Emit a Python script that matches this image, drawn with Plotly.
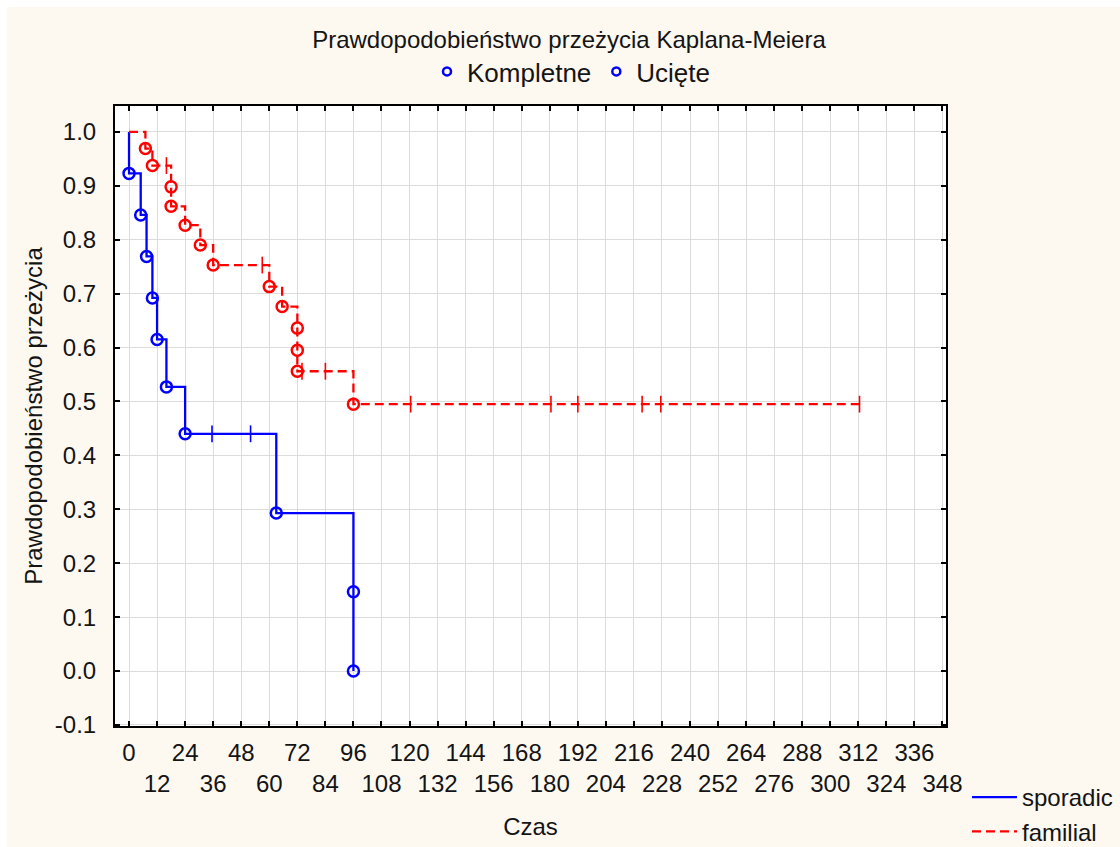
import plotly.graph_objects as go

# Kaplan-Meier estimates: event times (months) and survival just after each event
sporadic_event_t = [0, 5, 7.5, 10, 12, 16, 24, 63, 96, 96]
sporadic_event_s = [0.923, 0.846, 0.769, 0.692, 0.615, 0.527, 0.440, 0.293, 0.147, 0.0]
sporadic_cens_t = [35.5, 52]

familial_event_t = [7, 10, 18, 18, 24, 30.5, 36, 60, 65.5, 72, 72, 72, 96]
familial_event_s = [0.969, 0.9375, 0.898, 0.862, 0.827, 0.790, 0.753, 0.713, 0.676,
                    0.636, 0.595, 0.556, 0.495]
familial_cens_t = [16, 57, 74, 84, 120.5, 180.5, 192, 219.5, 227.5, 312.5]

x_ticks = list(range(0, 349, 12))
y_ticks = [round(-0.1 + 0.1 * i, 1) for i in range(12)]

BLUE = "#0000ff"
RED = "#ff0000"
FONT = "Liberation Sans, Arial, sans-serif"


def surv_at(t, ev_t, ev_s):
    s = 1.0
    for et, es in zip(ev_t, ev_s):
        if et <= t:
            s = es
    return s


def step_xy(ev_t, ev_s, cens_t):
    xs = [0] + list(ev_t)
    ys = [1.0] + list(ev_s)
    if cens_t and max(cens_t) > ev_t[-1]:
        xs.append(max(cens_t))
        ys.append(ev_s[-1])
    return xs, ys


fig = go.Figure()

groups = [
    ("sporadic", sporadic_event_t, sporadic_event_s, sporadic_cens_t, BLUE, "solid"),
    ("familial", familial_event_t, familial_event_s, familial_cens_t, RED, "9px,5px"),
]

for name, ev_t, ev_s, c_t, color, dash in groups:
    sx, sy = step_xy(ev_t, ev_s, c_t)
    fig.add_trace(go.Scatter(
        x=sx, y=sy, mode="lines", name=name, legend="legend",
        line=dict(color=color, width=2.3, shape="hv", dash=dash),
        hoverinfo="skip",
    ))
    # complete observations
    fig.add_trace(go.Scatter(
        x=ev_t, y=ev_s, mode="markers", showlegend=False,
        marker=dict(symbol="circle-open", size=11, color=color, line=dict(width=2.5)),
    ))
    # censored observations
    fig.add_trace(go.Scatter(
        x=c_t, y=[surv_at(t, ev_t, ev_s) for t in c_t], mode="markers", showlegend=False,
        marker=dict(symbol="line-ns-open", size=12, color=color, line=dict(width=1.6, color=color)),
    ))

# observation-type key
for label in ["Kompletne", "Ucięte"]:
    fig.add_trace(go.Scatter(
        x=[None], y=[None], mode="markers", name=label, legend="legend2",
        marker=dict(symbol="circle-open", size=8, color=BLUE, line=dict(width=2.5)),
    ))

# second row of x labels lives on an overlaid axis
fig.add_trace(go.Scatter(x=[None], y=[None], xaxis="x2", showlegend=False, hoverinfo="skip"))

x_range = [-6, 349.5]
y_range = [-0.102, 1.048]
W, H = 1120, 847
ml, mr, mt, mb = 115, 174, 106, 121
pw, ph = W - ml - mr, H - mt - mb

fig.update_layout(
    width=W, height=H,
    margin=dict(l=ml, r=mr, t=mt, b=mb, autoexpand=False),
    paper_bgcolor="#fdf9f1",
    plot_bgcolor="#ffffff",
    font=dict(family=FONT, size=24, color="#141414"),
    title=dict(text="Prawdopodobieństwo przeżycia Kaplana-Meiera",
               x=569 / W, xanchor="center", y=1 - 40 / H, yanchor="middle",
               font=dict(size=24)),
    xaxis=dict(
        range=x_range, tickvals=x_ticks,
        ticktext=[str(v) if i % 2 == 0 else "" for i, v in enumerate(x_ticks)],
        ticks="inside", ticklen=5, tickwidth=1.5, tickcolor="#000000",
        showline=True, linecolor="#000000", linewidth=2, mirror="ticks",
        showgrid=True, gridcolor="#dcdcdc", gridwidth=1, zeroline=False,
        tickfont=dict(size=24), ticklabelstandoff=4,
    ),
    xaxis2=dict(
        overlaying="x", side="bottom", anchor="y", range=x_range,
        tickvals=x_ticks[1::2], ticktext=[str(v) for v in x_ticks[1::2]],
        ticks="", showgrid=False, showline=False, zeroline=False,
        tickfont=dict(size=24), ticklabelstandoff=41,
        title=dict(text="Czas", font=dict(size=24), standoff=22),
    ),
    yaxis=dict(
        range=y_range, tickvals=y_ticks, ticktext=[f"{v:.1f}" for v in y_ticks],
        ticks="inside", ticklen=5, tickwidth=1.5, tickcolor="#000000",
        showline=True, linecolor="#000000", linewidth=2, mirror="ticks",
        showgrid=True, gridcolor="#dcdcdc", gridwidth=1, zeroline=False,
        tickfont=dict(size=24), ticklabelstandoff=12,
        title=dict(text="Prawdopodobieństwo przeżycia", font=dict(size=24), standoff=5),
    ),
    legend=dict(
        x=(967 - ml) / pw, y=(mt + ph - 775) / ph, xanchor="left", yanchor="top",
        bgcolor="rgba(0,0,0,0)", font=dict(size=24), tracegroupgap=0, itemwidth=45,
    ),
    legend2=dict(
        orientation="h", x=(427 - ml) / pw, y=(mt + ph - 48) / ph,
        xanchor="left", yanchor="top", bgcolor="rgba(0,0,0,0)", font=dict(size=26),
    ),
    showlegend=True,
    shapes=[
        # thin white border along the top and left edges of the page
        dict(type="rect", xref="paper", yref="paper", layer="above", line=dict(width=0),
             fillcolor="#ffffff", x0=-ml / pw, x1=(W - ml) / pw,
             y0=(ph + mt - 7) / ph, y1=(ph + mt) / ph),
        dict(type="rect", xref="paper", yref="paper", layer="above", line=dict(width=0),
             fillcolor="#ffffff", x0=-ml / pw, x1=(7 - ml) / pw,
             y0=-mb / ph, y1=(ph + mt) / ph),
    ],
)

fig.write_html("out.html")
